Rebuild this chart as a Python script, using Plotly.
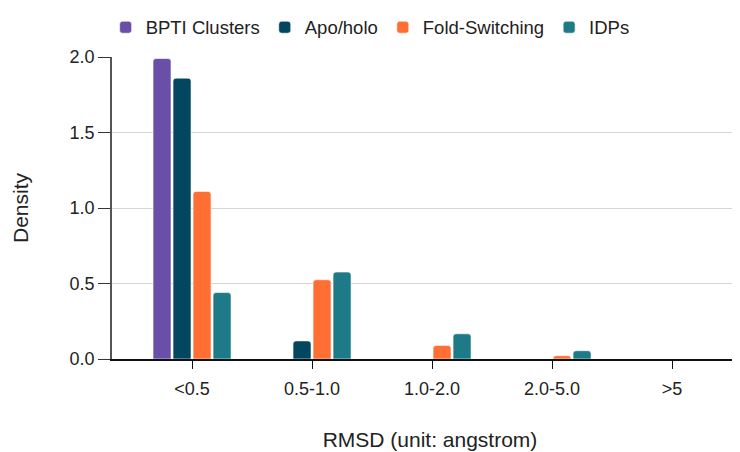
import plotly.graph_objects as go

categories = ["<0.5", "0.5-1.0", "1.0-2.0", "2.0-5.0", ">5"]
bpti = [1.99, 0.0, 0.0, 0.0, 0.0]
apo_holo = [1.86, 0.12, 0.0, 0.0, 0.0]
fold_switching = [1.11, 0.525, 0.09, 0.022, 0.0]
idps = [0.44, 0.576, 0.167, 0.055, 0.0]

series = [
    ("BPTI Clusters", bpti, "#6A4FA8"),
    ("Apo/holo", apo_holo, "#02475F"),
    ("Fold-Switching", fold_switching, "#FF6F33"),
    ("IDPs", idps, "#1F7A88"),
]

fig = go.Figure()
for name, vals, color in series:
    fig.add_trace(go.Bar(
        x=categories, y=vals, name=name,
        marker=dict(color=color, line=dict(color="rgba(255,255,255,0.6)", width=1)),
    ))

font = "Liberation Sans, Arial, sans-serif"
fig.update_layout(
    width=740, height=452,
    margin=dict(l=104, r=0, t=49, b=101),
    paper_bgcolor="white", plot_bgcolor="white",
    barmode="group", bargap=0.333, bargroupgap=0.1,
    barcornerradius=3,
    font=dict(family=font, size=18, color="#222"),
    legend=dict(orientation="h", x=-0.01, xanchor="left", y=1.16, yanchor="top",
                font=dict(size=18.5), itemwidth=30, tracegroupgap=0),
    xaxis=dict(
        range=[-0.667, 4.633], showgrid=False,
        showline=True, linecolor="#111", linewidth=1.5,
        ticks="outside", ticklen=8, tickcolor="#111",
        ticklabelstandoff=5,
        tickfont=dict(size=18),
        title=dict(text="RMSD (unit: angstrom)", font=dict(size=21), standoff=34),
    ),
    yaxis=dict(
        range=[0, 2.0], tickvals=[0, 0.5, 1.0, 1.5, 2.0], ticktext=["0.0", "0.5", "1.0", "1.5", "2.0"],
        showgrid=True, gridcolor="#d6d6d6", gridwidth=1,
        showline=True, linecolor="#555", linewidth=1.5,
        ticks="outside", ticklen=12, tickcolor="#333",
        tickfont=dict(size=18),
        zeroline=False,
        title=dict(text="Density", font=dict(size=21), standoff=35),
    ),
)

fig.write_html("out.html")
